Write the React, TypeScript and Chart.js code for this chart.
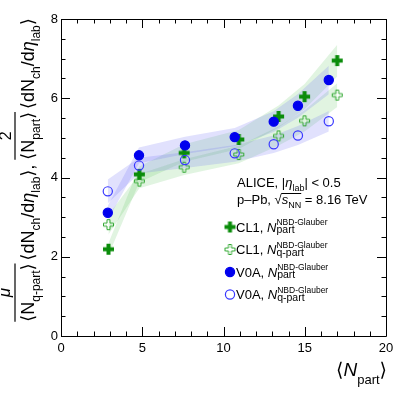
import React, { useEffect, useRef } from 'react';
import { Chart, registerables } from 'chart.js';
Chart.register(...registerables);

// ---- data ----
const xCL1 = [2.92, 4.82, 7.58, 10.94, 13.39, 14.99, 17.0];
const cl1Part = [2.19, 4.08, 4.62, 4.96, 5.54, 6.04, 6.95];
const cl1PartSys = [0.15, 0.2, 0.22, 0.24, 0.28, 0.32, 0.4];
const cl1Qpart = [2.81, 3.91, 4.26, 4.58, 5.05, 5.43, 6.08];
const cl1QpartSys = [0.25, 0.18, 0.2, 0.22, 0.24, 0.27, 0.3];
const xV0A = [2.88, 4.8, 7.63, 10.69, 13.09, 14.58, 16.48];
const v0aPart = [3.11, 4.56, 4.81, 5.02, 5.41, 5.81, 6.46];
const v0aPartSys = [0.18, 0.2, 0.22, 0.23, 0.26, 0.3, 0.36];
const v0aQpart = [3.65, 4.3, 4.44, 4.61, 4.84, 5.06, 5.42];
const v0aQpartSys = [0.3, 0.2, 0.2, 0.21, 0.22, 0.24, 0.26];

const xMin = 0, xMax = 20, xMajor = 5, xMinor = 1;
const yMin = 0, yMax = 8, yMajor = 2, yMinor = 0.5;

const FAM = "'Liberation Sans', 'DejaVu Sans', Arial, sans-serif";
const C_CL1 = '#0a8c0a';
const C_CL1Q = '#33a833';
const C_V0A = '#0000ee';
const C_V0AQ = '#3838ff';
const BAND_GREEN = 'rgba(70,185,70,0.16)';
const BAND_BLUE = 'rgba(105,105,245,0.2)';

function crossCanvas(filled: boolean, color: string): HTMLCanvasElement {
  const s = 11, a = 4, o = 1;
  const c = document.createElement('canvas');
  c.width = s + 2; c.height = s + 2;
  const g = c.getContext('2d')!;
  const m = (s - a) / 2;
  const pts = [
    [m, 0], [m + a, 0], [m + a, m], [s, m], [s, m + a], [m + a, m + a],
    [m + a, s], [m, s], [m, m + a], [0, m + a], [0, m], [m, m],
  ];
  g.beginPath();
  pts.forEach(([x, y], i) => {
    const px = o + x + (filled ? 0 : 0.5 * (x === 0 ? 1 : x === s ? -1 : (x === m ? 1 : -1)));
    const py = o + y + (filled ? 0 : 0.5 * (y === 0 ? 1 : y === s ? -1 : (y === m ? 1 : -1)));
    if (i === 0) g.moveTo(px, py); else g.lineTo(px, py);
  });
  g.closePath();
  if (filled) { g.fillStyle = color; g.fill(); }
  else { g.strokeStyle = color; g.lineWidth = 1; g.stroke(); }
  return c;
}

type Seg =
  | { k: 't'; t: string; s: number; i?: boolean; dy?: number }
  | { k: 'ss'; sup: string; sub: string; ps: number; bs: number; pdy: number; bdy: number }
  | { k: 'sp'; w: number }
  | { k: 'frac'; num: Seg[]; den: Seg[]; barDy: number; numDy: number; pad: number }
  | { k: 'over'; segs: Seg[]; dy: number };

const T = (t: string, s: number, i = false, dy = 0): Seg => ({ k: 't', t, s, i, dy });
const font = (s: number, i?: boolean) => `${i ? 'italic ' : ''}${s}px ${FAM}`;

function runs(ctx: CanvasRenderingContext2D, segs: Seg[], x: number, y: number, draw: boolean): number {
  let cx = x;
  for (const g of segs) {
    if (g.k === 't') {
      ctx.font = font(g.s, g.i);
      const w = ctx.measureText(g.t).width;
      if (draw) ctx.fillText(g.t, cx, y + (g.dy || 0));
      cx += w;
    } else if (g.k === 'ss') {
      ctx.font = font(g.ps);
      const w1 = ctx.measureText(g.sup).width;
      if (draw) ctx.fillText(g.sup, cx, y + g.pdy);
      ctx.font = font(g.bs);
      const w2 = ctx.measureText(g.sub).width;
      if (draw) ctx.fillText(g.sub, cx, y + g.bdy);
      cx += Math.max(w1, w2);
    } else if (g.k === 'sp') {
      cx += g.w;
    } else if (g.k === 'frac') {
      const wn = runs(ctx, g.num, 0, 0, false);
      const wd = runs(ctx, g.den, 0, 0, false);
      const W = Math.max(wn, wd) + 2 * g.pad;
      if (draw) {
        runs(ctx, g.den, cx + (W - wd) / 2, y, true);
        runs(ctx, g.num, cx + (W - wn) / 2, y + g.numDy, true);
        ctx.save();
        ctx.lineWidth = 1.2;
        ctx.beginPath();
        ctx.moveTo(cx, y + g.barDy);
        ctx.lineTo(cx + W, y + g.barDy);
        ctx.stroke();
        ctx.restore();
      }
      cx += W;
    } else if (g.k === 'over') {
      const w = runs(ctx, g.segs, cx, y, draw);
      if (draw) {
        ctx.save();
        ctx.lineWidth = 1;
        ctx.beginPath();
        ctx.moveTo(cx - 0.5, y + g.dy);
        ctx.lineTo(cx + w, y + g.dy);
        ctx.stroke();
        ctx.restore();
      }
      cx += w;
    }
  }
  return cx - x;
}

const bra = (s: number) => T('\u27E8', s);
const ket = (s: number) => T('\u27E9', s);

const dndeta: Seg[] = [
  bra(18), T('dN', 18), T('ch', 12, false, 6), T('/d', 18), T('\u03B7', 18, true), T('lab', 12, false, 6), ket(18),
];
const yTitle: Seg[] = [
  { k: 'frac', num: [T('\u03BC', 17, true)], den: [bra(18), T('N', 18), T('q-part', 12, false, 6), ket(18)], barDy: -19, numDy: -24, pad: 0 },
  { k: 'sp', w: 3 },
  ...dndeta,
  T(',', 18),
  { k: 'sp', w: 5 },
  { k: 'frac', num: [T('2', 16)], den: [bra(18), T('N', 18), T('part', 12, false, 6), ket(18)], barDy: -19, numDy: -23, pad: 0 },
  { k: 'sp', w: 3 },
  ...dndeta,
];
const xTitle: Seg[] = [bra(19), T('N', 19, true), T('part', 13, false, 8), ket(19)];
const leg1: Seg[] = [T('ALICE, |', 13), T('\u03B7', 13, true), T('lab', 9, false, 3.5), T('| < 0.5', 13)];
const leg2: Seg[] = [
  T('p\u2013Pb, ', 13), T('\u221A', 13),
  { k: 'over', segs: [T('s', 13, true), T('NN', 9, false, 3.5)], dy: -10.5 },
  T(' = 8.16 TeV', 13),
];
const entry = (lab: string, sub: string): Seg[] => [
  T(lab, 13), T('N', 13, true),
  { k: 'ss', sup: 'NBD-Glauber', sub, ps: 8.5, bs: 10.5, pdy: -6.5, bdy: 1.8 },
];
const legendRows = [
  { mk: 'cross', filled: true, color: C_CL1, segs: entry('CL1, ', 'part') },
  { mk: 'cross', filled: false, color: C_CL1Q, segs: entry('CL1, ', 'q-part') },
  { mk: 'circle', filled: true, color: C_V0A, segs: entry('V0A, ', 'part') },
  { mk: 'circle', filled: false, color: C_V0AQ, segs: entry('V0A, ', 'q-part') },
];

const pts = (xs: number[], ys: number[]) => xs.map((x, i) => ({ x, y: ys[i] }));
const hi = (xs: number[], ys: number[], e: number[]) => xs.map((x, i) => ({ x, y: ys[i] + e[i] }));
const lo = (xs: number[], ys: number[], e: number[]) => xs.map((x, i) => ({ x, y: ys[i] - e[i] }));

export default function App() {
  const ref = useRef<HTMLCanvasElement>(null);
  useEffect(() => {
    const canvas = ref.current!;
    const crossF = crossCanvas(true, C_CL1);
    const crossO = crossCanvas(false, C_CL1Q);

    const marker = (label: string, data: any[], style: any, color: string, filled: boolean) => ({
      label, data, showLine: false, order: 0,
      pointStyle: style,
      pointRadius: 4.6,
      pointBorderWidth: 1.2,
      pointBackgroundColor: filled ? color : 'rgba(0,0,0,0)',
      pointBorderColor: color,
      borderColor: color,
      backgroundColor: color,
    });
    const band = (data: any[], color: string, fill: any) => ({
      data, showLine: true, order: 1, pointRadius: 0, borderWidth: 0,
      borderColor: 'rgba(0,0,0,0)', backgroundColor: color, fill, tension: 0,
    });

    const framePlugin = {
      id: 'rootframe',
      afterDraw(chart: any) {
        const ctx: CanvasRenderingContext2D = chart.ctx;
        const { left, right, top, bottom } = chart.chartArea;
        const xs = chart.scales.x, ys = chart.scales.y;
        ctx.save();
        ctx.strokeStyle = '#000';
        ctx.lineWidth = 1;
        ctx.beginPath();
        ctx.rect(Math.round(left) + 0.5, Math.round(top) + 0.5, Math.round(right - left), Math.round(bottom - top));
        ctx.stroke();
        ctx.beginPath();
        for (let v = xMin; v <= xMax + 1e-9; v += xMinor) {
          const px = Math.round(xs.getPixelForValue(v)) + 0.5;
          const L = Math.abs(v / xMajor - Math.round(v / xMajor)) < 1e-6 ? 9 : 4.5;
          ctx.moveTo(px, bottom); ctx.lineTo(px, bottom - L);
          ctx.moveTo(px, top); ctx.lineTo(px, top + L);
        }
        for (let v = yMin; v <= yMax + 1e-9; v += yMinor) {
          const py = Math.round(ys.getPixelForValue(v)) + 0.5;
          const L = Math.abs(v / yMajor - Math.round(v / yMajor)) < 1e-6 ? 9 : 4.5;
          ctx.moveTo(left, py); ctx.lineTo(left + L, py);
          ctx.moveTo(right, py); ctx.lineTo(right - L, py);
        }
        ctx.stroke();

        ctx.fillStyle = '#000';
        ctx.strokeStyle = '#000';
        ctx.textBaseline = 'alphabetic';
        ctx.textAlign = 'left';
        // x title
        const wx = runs(ctx, xTitle, 0, 0, false);
        runs(ctx, xTitle, 387 - wx, 376, true);
        // y title
        ctx.save();
        ctx.translate(34, 170);
        ctx.rotate(-Math.PI / 2);
        const wy = runs(ctx, yTitle, 0, 0, false);
        runs(ctx, yTitle, -wy / 2, 0, true);
        ctx.restore();
        // legend header
        runs(ctx, leg1, 237, 187, true);
        runs(ctx, leg2, 237, 204, true);
        // legend rows
        const rowY = [227, 249.5, 272, 294.5];
        legendRows.forEach((r, i) => {
          const my = rowY[i];
          if (r.mk === 'cross') {
            const img = r.filled ? crossF : crossO;
            ctx.drawImage(img, 230 - img.width / 2, my - img.height / 2);
          } else {
            ctx.beginPath();
            ctx.arc(230, my, 4.6, 0, Math.PI * 2);
            if (r.filled) { ctx.fillStyle = r.color; ctx.fill(); }
            ctx.strokeStyle = r.color; ctx.lineWidth = 1.2; ctx.stroke();
            ctx.fillStyle = '#000';
          }
          runs(ctx, r.segs, 236, my + 4.5, true);
        });
        ctx.restore();
      },
    };

    const chart = new Chart(canvas, {
      type: 'line',
      data: {
        datasets: [
          marker('V0A part', pts(xV0A, v0aPart), 'circle', C_V0A, true),
          marker('V0A q-part', pts(xV0A, v0aQpart), 'circle', C_V0AQ, false),
          marker('CL1 part', pts(xCL1, cl1Part), crossF, C_CL1, true),
          marker('CL1 q-part', pts(xCL1, cl1Qpart), crossO, C_CL1Q, false),
          band(hi(xV0A, v0aPart, v0aPartSys), BAND_BLUE, '+1'),
          band(lo(xV0A, v0aPart, v0aPartSys), BAND_BLUE, false),
          band(hi(xV0A, v0aQpart, v0aQpartSys), BAND_BLUE, '+1'),
          band(lo(xV0A, v0aQpart, v0aQpartSys), BAND_BLUE, false),
          band(hi(xCL1, cl1Part, cl1PartSys), BAND_GREEN, '+1'),
          band(lo(xCL1, cl1Part, cl1PartSys), BAND_GREEN, false),
          band(hi(xCL1, cl1Qpart, cl1QpartSys), BAND_GREEN, '+1'),
          band(lo(xCL1, cl1Qpart, cl1QpartSys), BAND_GREEN, false),
        ] as any,
      },
      options: {
        animation: false,
        responsive: false,
        devicePixelRatio: 1,
        events: [],
        layout: { padding: { top: 19, right: 21, bottom: 0, left: 0 } },
        plugins: { legend: { display: false }, tooltip: { enabled: false } },
        scales: {
          x: {
            type: 'linear', min: xMin, max: xMax,
            grid: { display: false, drawTicks: false },
            border: { display: false },
            ticks: { stepSize: xMajor, color: '#000', font: { family: FAM, size: 13 }, padding: 5, maxRotation: 0 },
            afterFit: (s: any) => { s.height = 60; },
          },
          y: {
            type: 'linear', min: yMin, max: yMax,
            grid: { display: false, drawTicks: false },
            border: { display: false },
            ticks: { stepSize: yMajor, color: '#000', font: { family: FAM, size: 13 }, padding: 3 },
            afterFit: (s: any) => { s.width = 61; },
          },
        },
      } as any,
      plugins: [framePlugin],
    });
    return () => chart.destroy();
  }, []);
  return (
    <div style={{ position: 'absolute', left: 0, top: 0, width: 407, height: 396, background: '#fff' }}>
      <canvas ref={ref} width={407} height={396} style={{ display: 'block', width: 407, height: 396 }} />
    </div>
  );
}
